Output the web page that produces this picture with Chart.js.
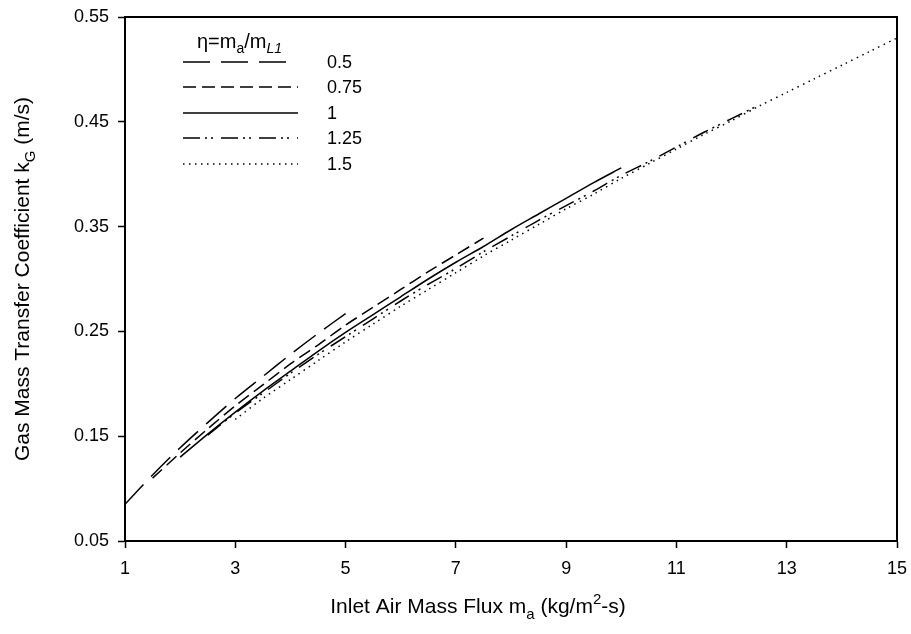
<!DOCTYPE html>
<html>
<head>
<meta charset="utf-8">
<script src="https://cdn.jsdelivr.net/npm/chart.js@4"></script>
<style>
  html, body { margin: 0; padding: 0; background: #fff; }
  #wrap { width: 911px; height: 634px; position: relative; }
</style>
</head>
<body>
<div id="wrap"><canvas id="kgChart"></canvas></div>
<script>
// ---- data ----
const xTicks = [1, 3, 5, 7, 9, 11, 13, 15];
const yTicks = [0.05, 0.15, 0.25, 0.35, 0.45, 0.55];
const etaLabels = ['0.5', '0.75', '1', '1.25', '1.5'];

const maEta050 = [1, 1.5, 2, 2.5, 3, 3.5, 4, 4.5, 5];
const kgEta050 = [0.085, 0.113, 0.139, 0.163, 0.186, 0.207, 0.228, 0.248, 0.267];

const maEta075 = [1.5, 2, 2.5, 3, 3.5, 4, 4.5, 5, 5.5, 6, 6.5, 7, 7.5];
const kgEta075 = [0.110, 0.134, 0.157, 0.179, 0.199, 0.219, 0.237, 0.256, 0.273, 0.290, 0.307, 0.323, 0.339];

const maEta100 = [2, 2.5, 3, 3.5, 4, 4.5, 5, 5.5, 6, 6.5, 7, 7.5, 8, 8.5, 9, 9.5, 10];
const kgEta100 = [0.130, 0.152, 0.173, 0.193, 0.212, 0.231, 0.249, 0.266, 0.283, 0.300, 0.316, 0.331, 0.347, 0.362, 0.377, 0.392, 0.406];

const maEta125 = [2.5, 3, 3.5, 4, 4.5, 5, 5.5, 6, 6.5, 7, 7.5, 8, 8.5, 9, 9.5, 10, 10.5, 11, 11.5, 12, 12.5];
const kgEta125 = [0.151, 0.172, 0.191, 0.210, 0.228, 0.245, 0.262, 0.279, 0.295, 0.310, 0.326, 0.341, 0.356, 0.370, 0.384, 0.399, 0.412, 0.426, 0.440, 0.453, 0.466];

const maEta150 = [3, 3.5, 4, 4.5, 5, 5.5, 6, 6.5, 7, 7.5, 8, 8.5, 9, 9.5, 10, 10.5, 11, 11.5, 12, 12.5, 13, 13.5, 14, 14.5, 15];
const kgEta150 = [0.166, 0.186, 0.204, 0.222, 0.240, 0.257, 0.274, 0.290, 0.306, 0.322, 0.337, 0.352, 0.367, 0.381, 0.396, 0.410, 0.424, 0.438, 0.451, 0.465, 0.478, 0.491, 0.504, 0.517, 0.530];

// ---- styles ----
const FONT = "'Liberation Sans', Arial, sans-serif";
const dashes = [[27, 11], [13, 6], [], [17, 5, 2, 4, 2, 8], [1.5, 4.5]];

function pts(xs, ys) {
    return xs.map((x, i) => ({ x: x, y: ys[i] }));
}

const series = [
    pts(maEta050, kgEta050),
    pts(maEta075, kgEta075),
    pts(maEta100, kgEta100),
    pts(maEta125, kgEta125),
    pts(maEta150, kgEta150)
];

const datasets = series.map((d, i) => ({
    label: etaLabels[i],
    data: d,
    showLine: true,
    borderColor: '#000',
    borderWidth: 1.5,
    borderDash: dashes[i],
    pointRadius: 0,
    tension: 0.3,
    fill: false
}));

// draw text pieces with sub/superscripts
function drawRich(ctx, parts, x, y, align) {
    let total = 0;
    parts.forEach(p => {
        ctx.font = (p.italic ? 'italic ' : '') + p.size + 'px ' + FONT;
        p.w = ctx.measureText(p.t).width;
        total += p.w;
    });
    let cx = align === 'center' ? x - total / 2 : x;
    ctx.textBaseline = 'alphabetic';
    ctx.textAlign = 'left';
    parts.forEach(p => {
        ctx.font = (p.italic ? 'italic ' : '') + p.size + 'px ' + FONT;
        ctx.fillText(p.t, cx, y + (p.dy || 0));
        cx += p.w;
    });
}

const decorPlugin = {
    id: 'decor',
    afterDraw(chart) {
        const ctx = chart.ctx;
        const a = chart.chartArea;
        ctx.save();
        ctx.fillStyle = '#000';
        ctx.strokeStyle = '#000';

        // frame (top and right)
        ctx.lineWidth = 2;
        ctx.beginPath();
        ctx.moveTo(a.left, a.top);
        ctx.lineTo(a.right, a.top);
        ctx.lineTo(a.right, a.bottom);
        ctx.stroke();

        // x title
        drawRich(ctx, [
            { t: 'Inlet Air Mass Flux m', size: 21 },
            { t: 'a', size: 15, dy: 6 },
            { t: ' (kg/m', size: 21 },
            { t: '2', size: 15, dy: -9 },
            { t: '-s)', size: 21 }
        ], 478, 613, 'center');

        // y title
        ctx.save();
        ctx.translate(29, (a.top + a.bottom) / 2);
        ctx.rotate(-Math.PI / 2);
        drawRich(ctx, [
            { t: 'Gas Mass Transfer Coefficient k', size: 21 },
            { t: 'G', size: 15, dy: 6 },
            { t: ' (m/s)', size: 21 }
        ], 0, 0, 'center');
        ctx.restore();

        // legend
        drawRich(ctx, [
            { t: '\u03b7=m', size: 20 },
            { t: 'a', size: 14, dy: 5 },
            { t: '/m', size: 20 },
            { t: 'L1', size: 14, dy: 5, italic: true }
        ], 197, 48, 'left');

        const rowY = [62, 87, 113, 138, 164];
        const rowEnd = [290, 298, 298, 298, 298];
        chart.data.datasets.forEach((ds, i) => {
            ctx.save();
            ctx.lineWidth = 1.5;
            ctx.setLineDash(ds.borderDash);
            ctx.beginPath();
            ctx.moveTo(183, rowY[i]);
            ctx.lineTo(rowEnd[i], rowY[i]);
            ctx.stroke();
            ctx.restore();
            ctx.font = '18px ' + FONT;
            ctx.textAlign = 'left';
            ctx.textBaseline = 'middle';
            ctx.fillText(ds.label, 327, rowY[i] + 1);
        });
        ctx.restore();
    }
};

new Chart(document.getElementById('kgChart'), {
    type: 'scatter',
    data: { datasets: datasets },
    options: {
        responsive: true,
        maintainAspectRatio: false,
        animation: false,
        devicePixelRatio: 1,
        layout: { padding: { left: 0, right: 14, top: 17, bottom: 0 } },
        plugins: {
            legend: { display: false },
            tooltip: { enabled: false }
        },
        scales: {
            x: {
                type: 'linear',
                min: 1,
                max: 15,
                afterFit(scale) {
                    scale.height = 93;
                    scale.paddingLeft = 0;
                    scale.paddingRight = 0;
                },
                afterBuildTicks(scale) { scale.ticks = xTicks.map(v => ({ value: v })); },
                grid: { drawOnChartArea: false, drawTicks: true, tickLength: 7, tickColor: '#000', tickWidth: 1.5 },
                border: { display: true, color: '#000', width: 2 },
                ticks: {
                    color: '#000',
                    padding: 10,
                    maxRotation: 0,
                    font: { family: FONT, size: 18 },
                    callback: v => String(v)
                }
            },
            y: {
                type: 'linear',
                min: 0.05,
                max: 0.55,
                afterFit(scale) {
                    scale.width = 125;
                    scale.paddingTop = 0;
                    scale.paddingBottom = 0;
                },
                afterBuildTicks(scale) { scale.ticks = yTicks.map(v => ({ value: v })); },
                grid: { drawOnChartArea: false, drawTicks: true, tickLength: 7, tickColor: '#000', tickWidth: 1.5 },
                border: { display: true, color: '#000', width: 2 },
                ticks: {
                    color: '#000',
                    padding: 9,
                    font: { family: FONT, size: 18 },
                    callback: v => Number(v).toFixed(2)
                }
            }
        }
    },
    plugins: [decorPlugin]
});
</script>
</body>
</html>
